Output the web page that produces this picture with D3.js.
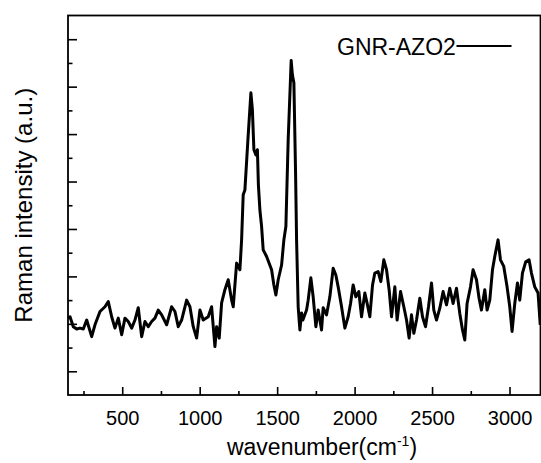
<!DOCTYPE html>
<html><head><meta charset="utf-8">
<script src="https://cdn.jsdelivr.net/npm/d3@7"></script>
<style>body{margin:0;background:#fff}svg{display:block}text{font-family:"Liberation Sans",Arial,sans-serif;fill:#000}</style>
</head><body>
<svg id="c" width="541" height="463"></svg>
<script>
const wavenumber = [150,162.9,184.2,206.1,227.4,248.7,270.6,302.9,324.2,356.5,388.7,410,431.9,453.2,474.5,496.5,517.7,539,561,582.3,603.5,625.5,646.8,668.1,690,711.3,732.6,754.5,786.8,819,840.3,861.6,883.5,915.8,937.1,958.4,980.3,1001.6,1022.9,1055.2,1077.1,1098.4,1109.4,1126.1,1141.6,1162.9,1184.2,1206.1,1216.5,1238.4,1259.7,1270.6,1280.9,1291.9,1311.3,1330.6,1340.3,1350,1362.9,1372.6,1379,1388.7,1399.7,1410,1431.9,1464.2,1479,1491.9,1506.8,1528.7,1543.5,1556.4,1571.3,1590.6,1598.4,1608.1,1619,1625.5,1635.8,1646.8,1657.7,1666.1,1690,1700.3,1717.7,1732.6,1750,1764.8,1786.7,1797.1,1819,1840.3,1861.6,1879,1893.9,1915.8,1937.1,1958.4,1973.9,1990.6,2008.1,2027.4,2044.8,2066.1,2080.9,2098.4,2115.8,2130.6,2151.9,2169.4,2188.7,2206.1,2222.9,2238.4,2259.7,2274.5,2296.5,2317.7,2335.2,2351.9,2367.4,2382.3,2399.7,2421,2438.4,2457.7,2477.1,2496.5,2511.3,2528.7,2550,2571.3,2593.2,2614.5,2635.8,2657.7,2679,2696.5,2711.3,2726.1,2748.1,2764.8,2786.8,2803.5,2819,2840.3,2855.2,2872.6,2890,2904.8,2926.1,2941.6,2962.9,2984.2,3001.6,3016.5,3033.9,3051.3,3066.1,3083.5,3104.8,3126.1,3141.6,3162.9,3184.2,3198.4];
const intensity = [1.62,1.65,1.44,1.39,1.41,1.39,1.58,1.23,1.48,1.76,1.86,1.97,1.65,1.41,1.62,1.27,1.62,1.55,1.41,1.58,1.84,1.23,1.55,1.44,1.55,1.62,1.79,1.69,1.48,1.86,1.76,1.44,1.58,2.00,1.86,1.44,1.20,1.79,1.58,1.65,1.86,1.02,1.44,1.20,1.94,2.22,2.43,2.00,1.86,2.78,2.64,3.27,4.22,4.32,5.38,6.37,6.01,5.17,5.06,5.17,4.43,3.90,3.55,3.06,2.92,2.64,2.32,2.11,2.43,2.74,3.27,3.55,5.38,7.05,6.75,6.58,4.68,3.27,1.86,1.37,1.73,1.58,1.79,2.00,2.47,2.07,1.44,1.79,1.37,1.84,1.69,2.07,2.67,2.53,2.28,1.86,1.41,1.65,1.93,2.32,2.07,2.18,1.65,2.15,1.93,1.65,2.32,2.57,2.60,2.39,2.85,2.64,2.22,1.65,2.28,1.58,2.18,1.86,1.58,1.20,1.69,1.30,1.58,2.04,1.65,1.44,1.86,2.36,1.79,1.58,1.83,2.18,1.90,2.25,1.93,2.25,1.72,1.37,1.16,1.93,2.28,2.64,2.43,2.04,1.79,2.22,1.79,2.00,2.64,2.92,3.27,2.85,2.71,2.28,1.86,1.34,1.93,2.36,2.00,2.57,2.81,2.85,2.57,2.28,2.15,1.48];
const xMajorTicks = [500,1000,1500,2000,2500,3000];
const xMinorTicks = [250,750,1250,1750,2250,2750];
const yMajorTicks = [0.5,1.5,2.5,3.5,4.5,5.5,6.5,7.5];
const yMinorTicks = [1,2,3,4,5,6,7];
const seriesName = "GNR-AZO2";

const L=68, R=540.5, T=15.5, B=395;
const svg = d3.select("#c");
const x = d3.scaleLinear().domain([150,3200]).range([L,R]);
const y = d3.scaleLinear().domain([0,8]).range([B,T]);
const data = wavenumber.map((w,i)=>({w, v:intensity[i]}));

// curve
svg.append("path").datum(data)
  .attr("fill","none").attr("stroke","#000").attr("stroke-width",3)
  .attr("stroke-linejoin","round")
  .attr("d", d3.line().x(d=>x(d.w)).y(d=>y(d.v)));

// axes
const gx = svg.append("g").attr("transform",`translate(0,${B})`)
  .call(d3.axisBottom(x).tickValues(xMajorTicks).tickSize(-8).tickPadding(16).tickFormat(d3.format("d")));
gx.selectAll("text").attr("font-size",20).attr("dy","0.71em");
const gxm = svg.append("g").attr("transform",`translate(0,${B})`)
  .call(d3.axisBottom(x).tickValues(xMinorTicks).tickSize(-4).tickFormat(""));
const gy = svg.append("g").attr("transform",`translate(${L},0)`)
  .call(d3.axisLeft(y).tickValues(yMajorTicks).tickSize(-9).tickFormat(""));
const gym = svg.append("g").attr("transform",`translate(${L},0)`)
  .call(d3.axisLeft(y).tickValues(yMinorTicks).tickSize(-4.5).tickFormat(""));
[gx,gxm,gy,gym].forEach(g=>{g.select(".domain").remove(); g.selectAll("line").attr("stroke","#000").attr("stroke-width",1.6);});
gx.selectAll("text").attr("font-family","'Liberation Sans',Arial,sans-serif").attr("fill","#000");

// frame
svg.append("rect").attr("x",L).attr("y",T).attr("width",R-L).attr("height",B-T)
  .attr("fill","none").attr("stroke","#000").attr("stroke-width",1.8);

// titles
const xt = svg.append("text").attr("x",322).attr("y",455).attr("text-anchor","middle").attr("font-size",23);
xt.append("tspan").text("wavenumber(cm");
xt.append("tspan").attr("font-size",14).attr("dy",-9).text("-1");
xt.append("tspan").attr("dy",9).text(")");
svg.append("text").attr("transform",`translate(32,${(T+B)/2}) rotate(-90)`)
  .attr("text-anchor","middle").attr("font-size",24).text("Raman intensity (a.u.)");

// legend
svg.append("text").attr("x",337).attr("y",55).attr("font-size",23).text(seriesName);
svg.append("line").attr("x1",456.5).attr("x2",511.5).attr("y1",46).attr("y2",46)
  .attr("stroke","#000").attr("stroke-width",2.2);
</script>
</body></html>
